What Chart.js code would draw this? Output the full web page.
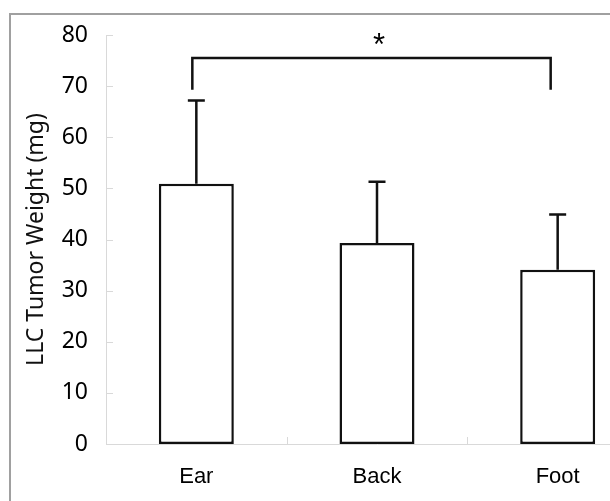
<!DOCTYPE html>
<html>
<head>
<meta charset="utf-8">
<script src="https://cdn.jsdelivr.net/npm/chart.js@4"></script>
<style>
  html, body { margin: 0; padding: 0; background: #fff; overflow: hidden; }
  #wrap { width: 610px; height: 501px; overflow: hidden; position: relative; }
</style>
</head>
<body>
<div id="wrap"><canvas id="c" width="660" height="501"></canvas></div>
<script>
// data
const sites = ["Ear", "Back", "Foot"];
const weights = [50.9, 39.3, 34.1];
const sdUpper = [16.3, 12.0, 10.8];
const yTicks = [0, 10, 20, 30, 40, 50, 60, 70, 80];
// significance bracket: from category 0 to 2, top at 75.5, legs down to 69.3
const sigPair = [0, 2];
const sigLevels = [75.5, 69.3];
const sigMark = "*";

const AXIS_GREY = "#d9d9d9";

const extrasPlugin = {
    id: 'extras',
    beforeDraw(chart) {
        const ctx = chart.ctx;
        ctx.save();
        // outer frame (top + left edges visible)
        ctx.strokeStyle = "#a0a0a0";
        ctx.lineWidth = 2;
        ctx.beginPath();
        ctx.moveTo(10, chart.height);
        ctx.lineTo(10, 14);
        ctx.lineTo(chart.width, 14);
        ctx.stroke();
        ctx.restore();
    },
    afterDraw(chart) {
        const {ctx, scales: {x, y}} = chart;
        ctx.save();
        // inward ticks
        ctx.strokeStyle = AXIS_GREY;
        ctx.lineWidth = 1;
        ctx.beginPath();
        y.ticks.forEach((t, i) => {
            const py = Math.round(y.getPixelForTick(i)) + 0.5;
            ctx.moveTo(y.right, py);
            ctx.lineTo(y.right + 7, py);
        });
        for (let i = 1; i < sites.length; i++) {
            const px = Math.round((x.getPixelForValue(i - 1) + x.getPixelForValue(i)) / 2) + 0.5;
            ctx.moveTo(px, x.top);
            ctx.lineTo(px, x.top - 7);
        }
        ctx.stroke();

        // error bars (upper only)
        ctx.strokeStyle = "#111";
        ctx.lineWidth = 2.5;
        ctx.beginPath();
        weights.forEach((v, i) => {
            const cx = x.getPixelForValue(i);
            const y0 = y.getPixelForValue(v);
            const y1 = y.getPixelForValue(v + sdUpper[i]);
            ctx.moveTo(cx, y0);
            ctx.lineTo(cx, y1);
            ctx.moveTo(cx - 8.5, y1);
            ctx.lineTo(cx + 8.5, y1);
        });
        ctx.stroke();

        // significance bracket
        const xa = x.getPixelForValue(sigPair[0]) - 4;
        const xb = x.getPixelForValue(sigPair[1]) - 7;
        const yt = y.getPixelForValue(sigLevels[0]);
        const yl = y.getPixelForValue(sigLevels[1]);
        ctx.beginPath();
        ctx.moveTo(xa, yl);
        ctx.lineTo(xa, yt);
        ctx.lineTo(xb, yt);
        ctx.lineTo(xb, yl);
        ctx.stroke();

        ctx.fillStyle = "#000";
        ctx.font = "31px 'Liberation Sans', Arial, sans-serif";
        ctx.textAlign = "center";
        ctx.textBaseline = "middle";
        ctx.fillText(sigMark, (xa + xb) / 2 + 7.5, yt - 12);
        ctx.restore();
    }
};

new Chart(document.getElementById('c'), {
    type: 'bar',
    data: {
        labels: sites,
        datasets: [{
            data: weights,
            backgroundColor: "#ffffff",
            borderColor: "#111",
            borderWidth: 2.5,
            borderSkipped: false,
            barPercentage: 0.83,
            categoryPercentage: 0.5
        }]
    },
    options: {
        responsive: false,
        animation: false,
        layout: { padding: { top: 35, right: 12, left: 0, bottom: 0 } },
        plugins: {
            legend: { display: false },
            tooltip: { enabled: false }
        },
        scales: {
            x: {
                grid: { display: false, drawTicks: false },
                border: { color: AXIS_GREY, width: 1 },
                ticks: {
                    color: "#000",
                    padding: 20,
                    font: { family: "'Liberation Sans', Arial, sans-serif", size: 22 }
                },
                afterFit(scale) { scale.height = 57; }
            },
            y: {
                min: 0,
                max: 80,
                afterBuildTicks(scale) { scale.ticks = yTicks.map(v => ({ value: v })); },
                grid: { display: false, drawTicks: false },
                border: { color: AXIS_GREY, width: 1 },
                ticks: {
                    color: "#000",
                    padding: 18,
                    font: { family: "'Noto Sans', sans-serif", size: 23 }
                },
                title: {
                    display: true,
                    text: "LLC Tumor Weight (mg)",
                    color: "#111",
                    padding: { top: 23, bottom: 0 },
                    font: { family: "'Noto Sans', sans-serif", size: 23 }
                },
                afterFit(scale) { scale.width = 106; }
            }
        }
    },
    plugins: [extrasPlugin]
});
</script>
</body>
</html>
